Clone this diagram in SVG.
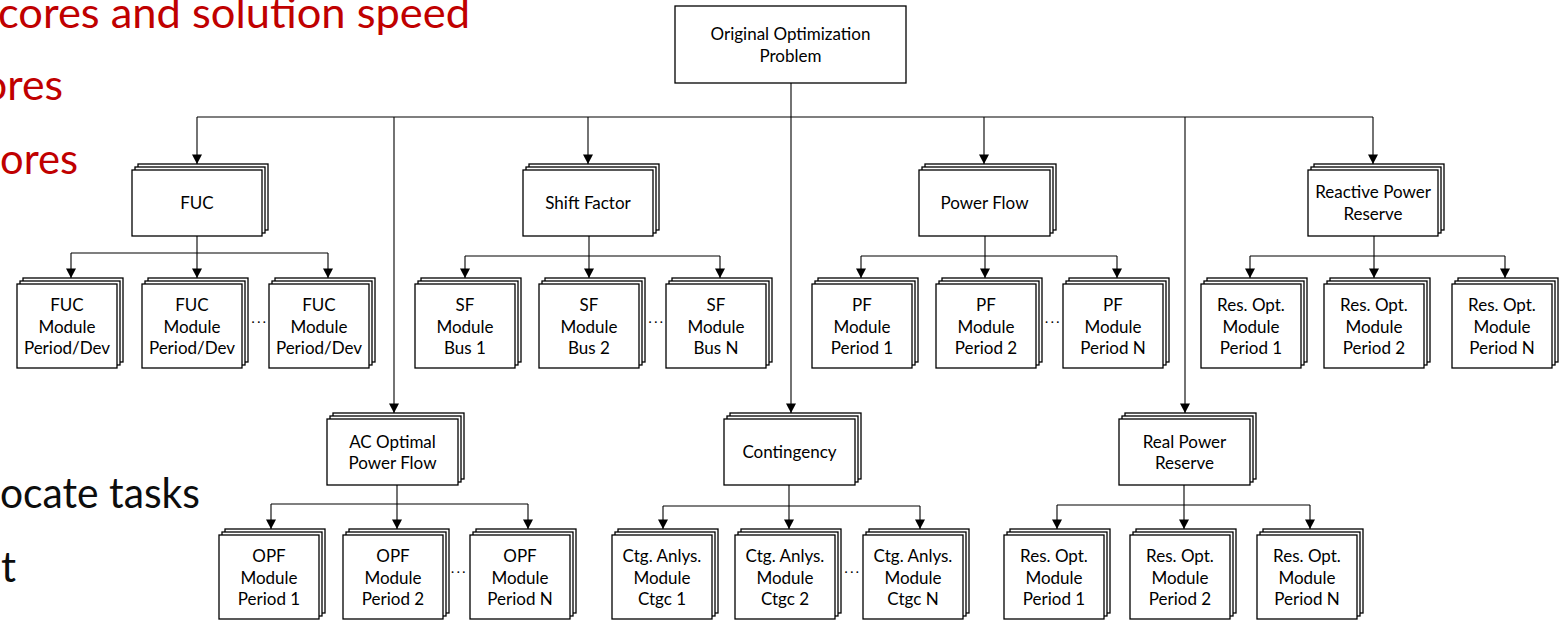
<svg xmlns="http://www.w3.org/2000/svg" width="1563" height="620" viewBox="0 0 1563 620">
  <defs>
    <marker id="arrow" markerUnits="userSpaceOnUse" markerWidth="10" markerHeight="10" refX="9.5" refY="5" orient="auto" overflow="visible">
      <path d="M0,0 L9.5,5 L0,10 z" fill="#000"/>
    </marker>
  </defs>
  <style>
    .b { fill: #fff; stroke: #000; stroke-width: 1.3; }
    .lbl { font-family: "Lato", "Liberation Sans", sans-serif; font-size: 17px; fill: #000; text-anchor: middle; }
    .dots { font-family: "Lato", "Liberation Sans", sans-serif; font-size: 12px; fill: #000; text-anchor: middle; letter-spacing: 2.6px; }
    .big { font-family: "Lato", "Open Sans", sans-serif; font-size: 42px; }
    .red { fill: #c00000; }
    .blk { fill: #0d0d0d; }
    .wire { fill: none; stroke: #000; stroke-width: 1.1; }
    .arr { marker-end: url(#arrow); }
  </style>

  <rect x="0" y="0" width="1563" height="620" fill="#fff"/>

  <!-- slide bullet text partly covered by the chart -->
  <g id="slide-text">
    <text class="big red" x="-2" y="28" textLength="472" lengthAdjust="spacingAndGlyphs">cores and solution speed</text>
    <text class="big red" x="63" y="100" text-anchor="end" textLength="80" lengthAdjust="spacingAndGlyphs">ores</text>
    <text class="big red" x="78" y="174" text-anchor="end" textLength="78" lengthAdjust="spacingAndGlyphs">ores</text>
    <text class="big blk" x="200" y="508" text-anchor="end" textLength="200" lengthAdjust="spacingAndGlyphs">ocate tasks</text>
    <text class="big blk" x="16" y="582" text-anchor="end">t</text>
  </g>

  <!-- connectors -->
  <g id="connectors">
    <!-- root to first-level tasks -->
    <path class="wire" d="M197,117 H1373"/>
    <path class="wire arr" d="M197,117 V164"/>
    <path class="wire arr" d="M394,117 V413"/>
    <path class="wire arr" d="M588,117 V164"/>
    <path class="wire arr" d="M791,83 V413"/>
    <path class="wire arr" d="M984,117 V164"/>
    <path class="wire arr" d="M1185,117 V413"/>
    <path class="wire arr" d="M1373,117 V164"/>

    <!-- FUC modules -->
    <path class="wire" d="M197,236 V253 M71,253 H328"/>
    <path class="wire arr" d="M71,253 V278"/>
    <path class="wire arr" d="M197,253 V278"/>
    <path class="wire arr" d="M328,253 V278"/>

    <!-- shift factor modules -->
    <path class="wire" d="M589,236 V256 M465,256 H720"/>
    <path class="wire arr" d="M465,256 V278"/>
    <path class="wire arr" d="M589,256 V278"/>
    <path class="wire arr" d="M720,256 V278"/>

    <!-- power flow modules -->
    <path class="wire" d="M985,236 V256 M861,256 H1117"/>
    <path class="wire arr" d="M861,256 V278"/>
    <path class="wire arr" d="M985,256 V278"/>
    <path class="wire arr" d="M1117,256 V278"/>

    <!-- reactive reserve modules -->
    <path class="wire" d="M1374,236 V256 M1250,256 H1505"/>
    <path class="wire arr" d="M1250,256 V278"/>
    <path class="wire arr" d="M1374,256 V278"/>
    <path class="wire arr" d="M1505,256 V278"/>

    <!-- OPF modules -->
    <path class="wire" d="M397,485 V504 M271,504 H528"/>
    <path class="wire arr" d="M271,504 V529"/>
    <path class="wire arr" d="M397,504 V529"/>
    <path class="wire arr" d="M528,504 V529"/>

    <!-- contingency modules -->
    <path class="wire" d="M789,485 V506 M663,506 H920"/>
    <path class="wire arr" d="M663,506 V529"/>
    <path class="wire arr" d="M789,506 V529"/>
    <path class="wire arr" d="M920,506 V529"/>

    <!-- real reserve modules -->
    <path class="wire" d="M1184,485 V505 M1057,505 H1310"/>
    <path class="wire arr" d="M1057,505 V529"/>
    <path class="wire arr" d="M1184,505 V529"/>
    <path class="wire arr" d="M1310,505 V529"/>
  </g>

  <!-- root -->
  <g id="root">
    <rect class="b" x="675" y="6" width="231" height="77"/>
    <text class="lbl" x="790.5" y="39.5">Original Optimization</text>
    <text class="lbl" x="790.5" y="61.5">Problem</text>
  </g>

  <!-- first-level tasks (stacked boxes) -->
  <g id="fuc">
    <rect class="b" x="138" y="164" width="130" height="66"/>
    <rect class="b" x="135" y="167" width="130" height="66"/>
    <rect class="b" x="132" y="170" width="130" height="66"/>
    <text class="lbl" x="197" y="209">FUC</text>
  </g>
  <g id="shift-factor">
    <rect class="b" x="529" y="164" width="130" height="66"/>
    <rect class="b" x="526" y="167" width="130" height="66"/>
    <rect class="b" x="523" y="170" width="130" height="66"/>
    <text class="lbl" x="588" y="209">Shift Factor</text>
  </g>
  <g id="power-flow">
    <rect class="b" x="925" y="164" width="131" height="66"/>
    <rect class="b" x="922" y="167" width="131" height="66"/>
    <rect class="b" x="919" y="170" width="131" height="66"/>
    <text class="lbl" x="984.5" y="209">Power Flow</text>
  </g>
  <g id="reactive-reserve">
    <rect class="b" x="1314" y="164" width="130" height="66"/>
    <rect class="b" x="1311" y="167" width="130" height="66"/>
    <rect class="b" x="1308" y="170" width="130" height="66"/>
    <text class="lbl" x="1373" y="198">Reactive Power</text>
    <text class="lbl" x="1373" y="219.5">Reserve</text>
  </g>
  <g id="ac-opf">
    <rect class="b" x="333" y="413" width="131" height="66"/>
    <rect class="b" x="330" y="416" width="131" height="66"/>
    <rect class="b" x="327" y="419" width="131" height="66"/>
    <text class="lbl" x="392.5" y="447.5">AC Optimal</text>
    <text class="lbl" x="392.5" y="469">Power Flow</text>
  </g>
  <g id="contingency">
    <rect class="b" x="730" y="413" width="131" height="66"/>
    <rect class="b" x="727" y="416" width="131" height="66"/>
    <rect class="b" x="724" y="419" width="131" height="66"/>
    <text class="lbl" x="789.5" y="458">Contingency</text>
  </g>
  <g id="real-reserve">
    <rect class="b" x="1125" y="413" width="131" height="66"/>
    <rect class="b" x="1122" y="416" width="131" height="66"/>
    <rect class="b" x="1119" y="419" width="131" height="66"/>
    <text class="lbl" x="1184.5" y="447.5">Real Power</text>
    <text class="lbl" x="1184.5" y="469">Reserve</text>
  </g>

  <!-- FUC modules -->
  <g id="fuc-m1">
    <rect class="b" x="23" y="278" width="100" height="84"/>
    <rect class="b" x="20" y="281" width="100" height="84"/>
    <rect class="b" x="17" y="284" width="100" height="84"/>
    <text class="lbl" x="67" y="311">FUC</text><text class="lbl" x="67" y="332.5">Module</text><text class="lbl" x="67" y="354">Period/Dev</text>
  </g>
  <g id="fuc-m2">
    <rect class="b" x="148" y="278" width="100" height="84"/>
    <rect class="b" x="145" y="281" width="100" height="84"/>
    <rect class="b" x="142" y="284" width="100" height="84"/>
    <text class="lbl" x="192" y="311">FUC</text><text class="lbl" x="192" y="332.5">Module</text><text class="lbl" x="192" y="354">Period/Dev</text>
  </g>
  <text class="dots" x="260" y="326">···</text>
  <g id="fuc-m3">
    <rect class="b" x="275" y="278" width="100" height="84"/>
    <rect class="b" x="272" y="281" width="100" height="84"/>
    <rect class="b" x="269" y="284" width="100" height="84"/>
    <text class="lbl" x="319" y="311">FUC</text><text class="lbl" x="319" y="332.5">Module</text><text class="lbl" x="319" y="354">Period/Dev</text>
  </g>

  <!-- shift factor modules -->
  <g id="sf-m1">
    <rect class="b" x="421" y="278" width="100" height="84"/>
    <rect class="b" x="418" y="281" width="100" height="84"/>
    <rect class="b" x="415" y="284" width="100" height="84"/>
    <text class="lbl" x="465" y="311">SF</text><text class="lbl" x="465" y="332.5">Module</text><text class="lbl" x="465" y="354">Bus 1</text>
  </g>
  <g id="sf-m2">
    <rect class="b" x="545" y="278" width="100" height="84"/>
    <rect class="b" x="542" y="281" width="100" height="84"/>
    <rect class="b" x="539" y="284" width="100" height="84"/>
    <text class="lbl" x="589" y="311">SF</text><text class="lbl" x="589" y="332.5">Module</text><text class="lbl" x="589" y="354">Bus 2</text>
  </g>
  <text class="dots" x="657" y="326">···</text>
  <g id="sf-m3">
    <rect class="b" x="672" y="278" width="100" height="84"/>
    <rect class="b" x="669" y="281" width="100" height="84"/>
    <rect class="b" x="666" y="284" width="100" height="84"/>
    <text class="lbl" x="716" y="311">SF</text><text class="lbl" x="716" y="332.5">Module</text><text class="lbl" x="716" y="354">Bus N</text>
  </g>

  <!-- power flow modules -->
  <g id="pf-m1">
    <rect class="b" x="818" y="278" width="100" height="84"/>
    <rect class="b" x="815" y="281" width="100" height="84"/>
    <rect class="b" x="812" y="284" width="100" height="84"/>
    <text class="lbl" x="862" y="311">PF</text><text class="lbl" x="862" y="332.5">Module</text><text class="lbl" x="862" y="354">Period 1</text>
  </g>
  <g id="pf-m2">
    <rect class="b" x="942" y="278" width="100" height="84"/>
    <rect class="b" x="939" y="281" width="100" height="84"/>
    <rect class="b" x="936" y="284" width="100" height="84"/>
    <text class="lbl" x="986" y="311">PF</text><text class="lbl" x="986" y="332.5">Module</text><text class="lbl" x="986" y="354">Period 2</text>
  </g>
  <text class="dots" x="1053.5" y="326">···</text>
  <g id="pf-m3">
    <rect class="b" x="1069" y="278" width="100" height="84"/>
    <rect class="b" x="1066" y="281" width="100" height="84"/>
    <rect class="b" x="1063" y="284" width="100" height="84"/>
    <text class="lbl" x="1113" y="311">PF</text><text class="lbl" x="1113" y="332.5">Module</text><text class="lbl" x="1113" y="354">Period N</text>
  </g>

  <!-- reactive reserve modules -->
  <g id="rq-m1">
    <rect class="b" x="1207" y="278" width="100" height="84"/>
    <rect class="b" x="1204" y="281" width="100" height="84"/>
    <rect class="b" x="1201" y="284" width="100" height="84"/>
    <text class="lbl" x="1251" y="311">Res. Opt.</text><text class="lbl" x="1251" y="332.5">Module</text><text class="lbl" x="1251" y="354">Period 1</text>
  </g>
  <g id="rq-m2">
    <rect class="b" x="1330" y="278" width="100" height="84"/>
    <rect class="b" x="1327" y="281" width="100" height="84"/>
    <rect class="b" x="1324" y="284" width="100" height="84"/>
    <text class="lbl" x="1374" y="311">Res. Opt.</text><text class="lbl" x="1374" y="332.5">Module</text><text class="lbl" x="1374" y="354">Period 2</text>
  </g>
  <g id="rq-m3">
    <rect class="b" x="1458" y="278" width="100" height="84"/>
    <rect class="b" x="1455" y="281" width="100" height="84"/>
    <rect class="b" x="1452" y="284" width="100" height="84"/>
    <text class="lbl" x="1502" y="311">Res. Opt.</text><text class="lbl" x="1502" y="332.5">Module</text><text class="lbl" x="1502" y="354">Period N</text>
  </g>

  <!-- OPF modules -->
  <g id="opf-m1">
    <rect class="b" x="225" y="529" width="100" height="84"/>
    <rect class="b" x="222" y="532" width="100" height="84"/>
    <rect class="b" x="219" y="535" width="100" height="84"/>
    <text class="lbl" x="269" y="562">OPF</text><text class="lbl" x="269" y="583.5">Module</text><text class="lbl" x="269" y="605">Period 1</text>
  </g>
  <g id="opf-m2">
    <rect class="b" x="349" y="529" width="100" height="84"/>
    <rect class="b" x="346" y="532" width="100" height="84"/>
    <rect class="b" x="343" y="535" width="100" height="84"/>
    <text class="lbl" x="393" y="562">OPF</text><text class="lbl" x="393" y="583.5">Module</text><text class="lbl" x="393" y="605">Period 2</text>
  </g>
  <text class="dots" x="459.5" y="576">···</text>
  <g id="opf-m3">
    <rect class="b" x="476" y="529" width="100" height="84"/>
    <rect class="b" x="473" y="532" width="100" height="84"/>
    <rect class="b" x="470" y="535" width="100" height="84"/>
    <text class="lbl" x="520" y="562">OPF</text><text class="lbl" x="520" y="583.5">Module</text><text class="lbl" x="520" y="605">Period N</text>
  </g>

  <!-- contingency analysis modules -->
  <g id="ctg-m1">
    <rect class="b" x="618" y="529" width="100" height="84"/>
    <rect class="b" x="615" y="532" width="100" height="84"/>
    <rect class="b" x="612" y="535" width="100" height="84"/>
    <text class="lbl" x="662" y="562">Ctg. Anlys.</text><text class="lbl" x="662" y="583.5">Module</text><text class="lbl" x="662" y="605">Ctgc 1</text>
  </g>
  <g id="ctg-m2">
    <rect class="b" x="741" y="529" width="100" height="84"/>
    <rect class="b" x="738" y="532" width="100" height="84"/>
    <rect class="b" x="735" y="535" width="100" height="84"/>
    <text class="lbl" x="785" y="562">Ctg. Anlys.</text><text class="lbl" x="785" y="583.5">Module</text><text class="lbl" x="785" y="605">Ctgc 2</text>
  </g>
  <text class="dots" x="853" y="576">···</text>
  <g id="ctg-m3">
    <rect class="b" x="869" y="529" width="100" height="84"/>
    <rect class="b" x="866" y="532" width="100" height="84"/>
    <rect class="b" x="863" y="535" width="100" height="84"/>
    <text class="lbl" x="913" y="562">Ctg. Anlys.</text><text class="lbl" x="913" y="583.5">Module</text><text class="lbl" x="913" y="605">Ctgc N</text>
  </g>

  <!-- real reserve modules -->
  <g id="rp-m1">
    <rect class="b" x="1010" y="529" width="100" height="84"/>
    <rect class="b" x="1007" y="532" width="100" height="84"/>
    <rect class="b" x="1004" y="535" width="100" height="84"/>
    <text class="lbl" x="1054" y="562">Res. Opt.</text><text class="lbl" x="1054" y="583.5">Module</text><text class="lbl" x="1054" y="605">Period 1</text>
  </g>
  <g id="rp-m2">
    <rect class="b" x="1136" y="529" width="100" height="84"/>
    <rect class="b" x="1133" y="532" width="100" height="84"/>
    <rect class="b" x="1130" y="535" width="100" height="84"/>
    <text class="lbl" x="1180" y="562">Res. Opt.</text><text class="lbl" x="1180" y="583.5">Module</text><text class="lbl" x="1180" y="605">Period 2</text>
  </g>
  <g id="rp-m3">
    <rect class="b" x="1263" y="529" width="100" height="84"/>
    <rect class="b" x="1260" y="532" width="100" height="84"/>
    <rect class="b" x="1257" y="535" width="100" height="84"/>
    <text class="lbl" x="1307" y="562">Res. Opt.</text><text class="lbl" x="1307" y="583.5">Module</text><text class="lbl" x="1307" y="605">Period N</text>
  </g>
</svg>
